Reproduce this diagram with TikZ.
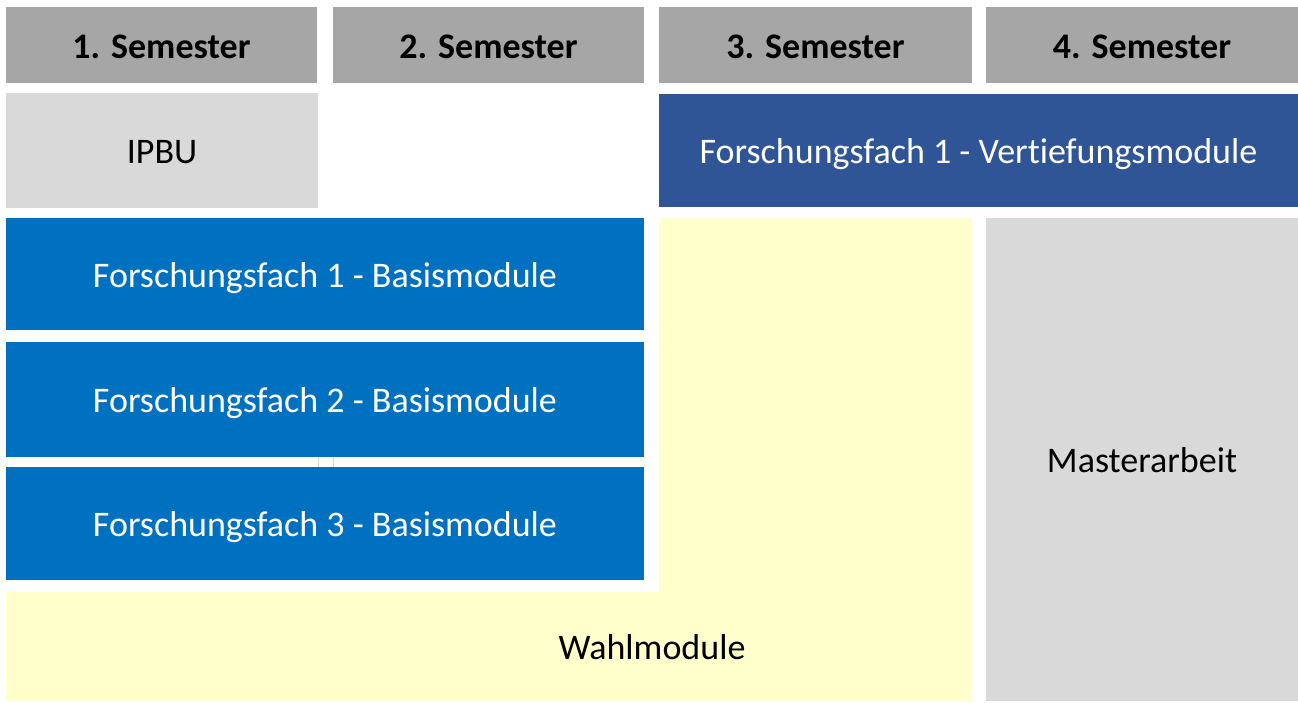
\documentclass[tikz,border=0pt]{standalone}
\usepackage{fontspec}
\setmainfont[Ligatures={NoCommon}]{Carlito}
\definecolor{hdr}{HTML}{A6A6A6}
\definecolor{lgray}{HTML}{D9D9D9}
\definecolor{dblue}{HTML}{2F5597}
\definecolor{mblue}{HTML}{0070C0}
\definecolor{lyellow}{HTML}{FFFFCC}
\tikzset{
  label text/.style={inner sep=0pt, outer sep=0pt, text height=29pt, text depth=3pt, font=\fontsize{36}{42}\selectfont},
  box/.style={label text, draw=none, anchor=north west},
  hdrbox/.style={box, fill=hdr, text=black, font=\fontsize{36}{42}\selectfont\bfseries},
  graybox/.style={box, fill=lgray, text=black},
  bluebox/.style={box, fill=mblue, text=white},
  dbluebox/.style={box, fill=dblue, text=white},
}
\begin{document}
\begin{tikzpicture}[x=1pt,y=-1pt]
\useasboundingbox (0,0) rectangle (1298,702);
% headers
\node[hdrbox, minimum width=311pt, minimum height=76pt] (h1) at (6,7) {1. Semester};
\node[hdrbox, minimum width=311pt, minimum height=76pt] (h2) at (333,7) {2. Semester};
\node[hdrbox, minimum width=313pt, minimum height=76pt] (h3) at (659,7) {3. Semester};
\node[hdrbox, minimum width=312pt, minimum height=76pt] (h4) at (986,7) {4. Semester};
% row 2
\node[graybox, minimum width=312pt, minimum height=115pt] (ipbu) at (6,93) {IPBU};
\node[dbluebox, minimum width=639pt, minimum height=113pt] (vert) at (659,94) {Forschungsfach 1 - Vertiefungsmodule};
% yellow L-shape
\fill[lyellow] (659,218) -- (972,218) -- (972,701) -- (6,701) -- (6,592) -- (659,592) -- cycle;
\node[label text] (wahl) at (652,646) {Wahlmodule};
% basis modules
\node[bluebox, minimum width=638pt, minimum height=112pt] (b1) at (6,218) {Forschungsfach 1 - Basismodule};
\node[bluebox, minimum width=638pt, minimum height=115pt] (b2) at (6,342) {Forschungsfach 2 - Basismodule};
\node[bluebox, minimum width=638pt, minimum height=113pt] (b3) at (6,467) {Forschungsfach 3 - Basismodule};
% thesis
\node[graybox, minimum width=312pt, minimum height=483pt] (ma) at (986,218) {Masterarbeit};
% small artifacts
\draw[lgray, line width=0.8pt] (318.5,457) -- (318.5,467);
\draw[lgray, line width=0.8pt] (333.5,457) -- (333.5,467);
\end{tikzpicture}
\end{document}
